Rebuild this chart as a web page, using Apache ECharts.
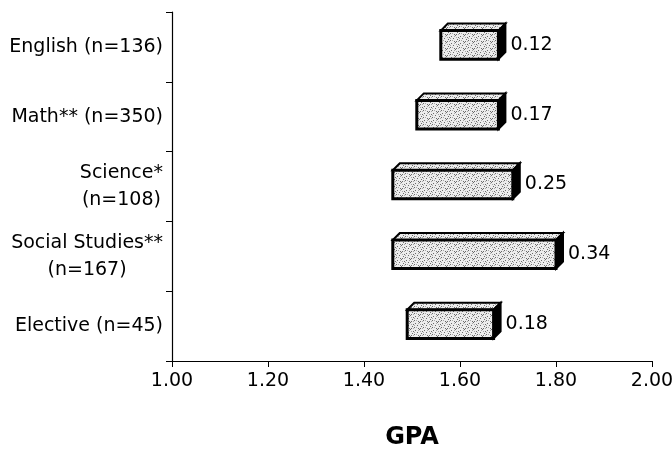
<!DOCTYPE html>
<html>
<head>
<meta charset="utf-8">
<script src="https://cdn.jsdelivr.net/npm/echarts@6/dist/echarts.min.js"></script>
<style>html,body{margin:0;padding:0;background:#fff;}#chart{width:672px;height:452px;}</style>
</head>
<body>
<div id="chart"></div>
<script>
const categories = ['English (n=136)', 'Math** (n=350)', 'Science*\n(n=108)', 'Social Studies**\n(n=167)', 'Elective (n=45)'];
const lowGPA = [1.56, 1.51, 1.46, 1.46, 1.49];
const gapGPA = [0.12, 0.17, 0.25, 0.34, 0.18];
const xMin = 1.0, xMax = 2.0, xStep = 0.2;

const FONT = 'DejaVu Sans';

// light stipple texture for the bar faces (fixed tile, not data)
function makeStipple() {
  const c = document.createElement('canvas');
  c.width = 9; c.height = 7;
  const g = c.getContext('2d');
  g.fillStyle = '#ececec';
  g.fillRect(0, 0, 9, 7);
  g.fillStyle = '#6a6a6a';
  [[1, 1], [5, 0], [3, 3], [7, 4], [0, 5], [4, 6], [8, 2], [6, 6]].forEach(p => g.fillRect(p[0], p[1], 1, 1));
  g.fillStyle = '#a8a8a8';
  [[2, 5], [6, 2], [0, 3], [4, 1], [8, 6]].forEach(p => g.fillRect(p[0], p[1], 1, 1));
  return {image: c, repeat: 'repeat'};
}
const stipple = makeStipple();

const chart = echarts.init(document.getElementById('chart'), null, {renderer: 'canvas'});

const data = categories.map((c, i) => [i, lowGPA[i], lowGPA[i] + gapGPA[i], gapGPA[i]]);

function renderItem(params, api) {
  const idx = api.value(0);
  const p0 = api.coord([api.value(1), idx]);
  const p1 = api.coord([api.value(2), idx]);
  const band = api.size([0, 1])[1];
  const h = band * 0.41;
  const d = 7;
  const cy = p0[1] - 2;
  const x0 = p0[0], x1 = p1[0];
  const yT = cy - h / 2, yB = cy + h / 2;
  return {
    type: 'group',
    children: [
      {type: 'polygon', shape: {points: [[x0, yT], [x0 + d, yT - d], [x1 + d, yT - d], [x1, yT]]},
       style: {fill: stipple, stroke: '#000', lineWidth: 2}},
      {type: 'polygon', shape: {points: [[x1, yT], [x1 + d, yT - d], [x1 + d, yB - d], [x1, yB]]},
       style: {fill: '#000', stroke: '#000', lineWidth: 2}},
      {type: 'rect', shape: {x: x0, y: yT, width: x1 - x0, height: h},
       style: {fill: stipple, stroke: '#000', lineWidth: 3}},
      {type: 'text', style: {x: x1 + d + 5, y: cy, text: api.value(3).toFixed(2),
        font: '19px "' + FONT + '"', fill: '#000', verticalAlign: 'middle', align: 'left'}}
    ]
  };
}

chart.setOption({
  animation: false,
  backgroundColor: '#fff',
  grid: {left: 172, right: 20, top: 12, bottom: 91, containLabel: false, outerBoundsMode: 'none'},
  xAxis: {
    type: 'value', min: xMin, max: xMax, interval: xStep,
    name: 'GPA', nameLocation: 'middle', nameGap: 65,
    nameTextStyle: {fontFamily: FONT, fontSize: 24, fontWeight: 'bold', color: '#000'},
    axisLine: {show: true, lineStyle: {color: '#000', width: 1.2}},
    axisTick: {show: true, length: 6, lineStyle: {color: '#000'}},
    axisLabel: {fontFamily: FONT, fontSize: 19, color: '#000', margin: 11,
      formatter: v => v.toFixed(2)},
    splitLine: {show: false}
  },
  yAxis: {
    type: 'category', inverse: true, data: categories,
    axisLine: {show: true, lineStyle: {color: '#000', width: 1.2}},
    axisTick: {show: true, length: 6, lineStyle: {color: '#000'}},
    axisLabel: {
      margin: 9, color: '#000', fontFamily: FONT, fontSize: 19, lineHeight: 27,
      formatter: v => v.split('\n').map(s => '{c|' + s + '}').join('\n'),
      rich: {c: {align: 'center', fontFamily: FONT, fontSize: 19, lineHeight: 27, color: '#000'}}
    },
    splitLine: {show: false}
  },
  series: [{
    type: 'custom',
    renderItem: renderItem,
    encode: {x: [1, 2], y: 0},
    data: data
  }]
});
</script>
</body>
</html>
